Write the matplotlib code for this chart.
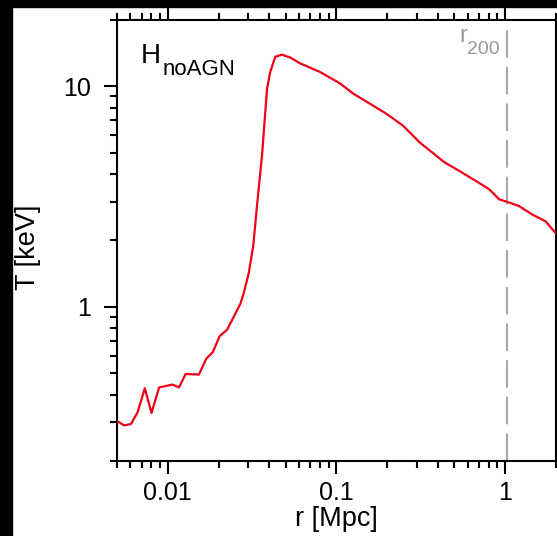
import matplotlib
matplotlib.use("Agg")
import matplotlib.pyplot as plt
import matplotlib.ticker as ticker
from matplotlib.patches import Rectangle

plt.rcParams['font.family'] = ['Liberation Sans', 'DejaVu Sans']

# radial temperature profile, no-AGN run
r_mpc = [0.00505, 0.00552, 0.00605, 0.00662, 0.00731, 0.00801, 0.00889,
         0.01066, 0.01166, 0.01277, 0.01531, 0.0169, 0.0185, 0.0203,
         0.0225, 0.0246, 0.0270, 0.0282, 0.0302, 0.0321, 0.0338, 0.0362,
         0.0388, 0.0405, 0.0434, 0.0475, 0.0532, 0.0609, 0.080, 0.105,
         0.1257, 0.198, 0.248, 0.311, 0.437, 0.535, 0.671, 0.805, 0.923,
         1.056, 1.21, 1.45, 1.74, 1.99]
t_kev = [0.302, 0.290, 0.294, 0.332, 0.427, 0.330, 0.431,
         0.444, 0.431, 0.496, 0.493, 0.581, 0.623, 0.735,
         0.788, 0.900, 1.036, 1.151, 1.42, 1.88, 2.86, 4.84,
         9.76, 11.6, 13.6, 13.9, 13.5, 12.7, 11.6, 10.3,
         9.26, 7.5, 6.63, 5.57, 4.52, 4.13, 3.72, 3.41, 3.07,
         2.97, 2.86, 2.62, 2.44, 2.16]
r200 = 1.03

fig = plt.figure(figsize=(5.57, 5.36), dpi=100)
fig.patch.set_facecolor('white')
ax = fig.add_axes([0.210, 0.140, 0.788, 0.823])

ax.plot(r_mpc, t_kev, color='#f20018', lw=1.6, zorder=3)
ax.axvline(r200, color='#8c8c8c', lw=1.1, dashes=(18, 6), zorder=2)

ax.set_xscale('log')
ax.set_yscale('log')
ax.set_xlim(0.005, 2.0)
ax.set_ylim(0.2, 20)

fmt = ticker.FuncFormatter(lambda v, _: f'{v:g}')
ax.xaxis.set_major_formatter(fmt)
ax.yaxis.set_major_formatter(fmt)
ax.xaxis.set_minor_formatter(ticker.NullFormatter())
ax.yaxis.set_minor_formatter(ticker.NullFormatter())

for s in ax.spines.values():
    s.set_linewidth(1.5)
ax.tick_params(which='both', direction='out', top=True, right=True,
               width=1.5, labelsize=18)
ax.tick_params(which='major', length=9.5)
ax.tick_params(which='minor', length=5)
ax.tick_params(axis='x', pad=5)
ax.tick_params(axis='y', pad=9)

ax.set_xlabel('r [Mpc]', fontsize=19.5)
ax.set_ylabel('T [keV]', fontsize=19.5)
ax.xaxis.set_label_coords(0.499, -0.103)
ax.yaxis.set_label_coords(-0.172, 0.485)

# run name in the upper left corner
ax.text(0.055, 0.9025, 'H', fontsize=20, transform=ax.transAxes)
ax.text(0.105, 0.875, 'noAGN', fontsize=16, transform=ax.transAxes)

# r200 marker label
ax.text(0.779, 0.95, 'r', fontsize=17, color='#999999',
        transform=ax.transAxes)
ax.text(0.797, 0.922, '200', fontsize=14, color='#999999',
        transform=ax.transAxes)

# dark frame along the top and left edges
fig.add_artist(Rectangle((0, 1 - 7 / 536), 1, 7 / 536, color='black',
                         transform=fig.transFigure, zorder=10))
fig.add_artist(Rectangle((0, 0), 12 / 557, 1, color='black',
                         transform=fig.transFigure, zorder=10))

fig.savefig('out.png', dpi=100, facecolor=fig.get_facecolor())
